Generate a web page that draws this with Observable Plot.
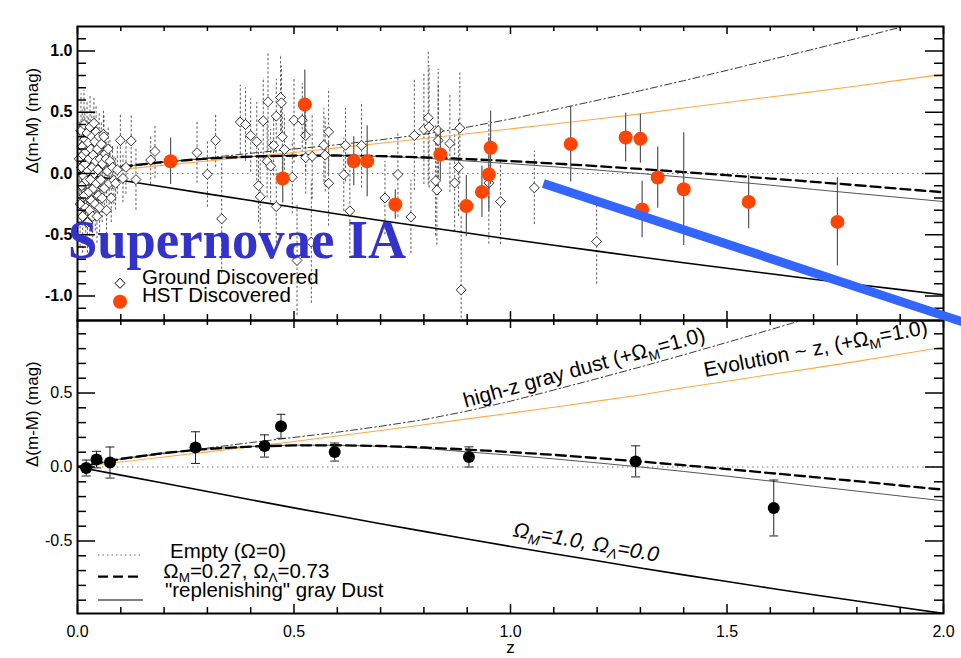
<!DOCTYPE html>
<html><head><meta charset="utf-8">
<script src="https://cdn.jsdelivr.net/npm/d3@7"></script>
<script src="https://cdn.jsdelivr.net/npm/@observablehq/plot@0.6"></script>
<style>
html,body{margin:0;padding:0;background:#fff;}
#wrap{position:relative;width:961px;height:658px;overflow:hidden;background:#fff;}
#wrap svg{position:absolute;left:0;top:0;overflow:visible;}
</style></head><body><div id="wrap"></div>
<script>
// ---------- data ----------
const zGrid = [0,0.1,0.2,0.3,0.4,0.5,0.6,0.7,0.8,0.9,1.0,1.1,1.2,1.3,1.4,1.5,1.6,1.7,1.8,1.9,2.0];
const lcdmModel = [0,0.055,0.095,0.122,0.138,0.146,0.147,0.142,0.132,0.118,0.101,0.082,0.060,0.037,0.012,-0.014,-0.041,-0.068,-0.096,-0.125,-0.153];
const omegaMatterModel = [0,-0.055,-0.110,-0.166,-0.221,-0.276,-0.330,-0.383,-0.435,-0.486,-0.537,-0.586,-0.634,-0.682,-0.729,-0.774,-0.819,-0.863,-0.906,-0.948,-0.990];
const grayDustModel = [0,0.055,0.095,0.122,0.139,0.148,0.147,0.140,0.126,0.102,0.080,0.055,0.028,0.000,-0.030,-0.062,-0.095,-0.130,-0.163,-0.196,-0.229];
const highzDustModel = [0,0.050,0.090,0.128,0.165,0.200,0.235,0.275,0.320,0.378,0.445,0.520,0.597,0.676,0.758,0.842,0.928,1.015,1.103,1.193,1.285];
const evolutionModel = [0,0.034,0.068,0.102,0.137,0.172,0.209,0.247,0.286,0.325,0.364,0.404,0.445,0.487,0.535,0.580,0.625,0.668,0.714,0.762,0.810];

// ground discovered SNe: [z, delta, error]
const groundData = [
 [0.004,0.12,0.30],[0.006,-0.25,0.35],[0.008,0.35,0.30],[0.009,0.05,0.25],[0.010,-0.10,0.30],[0.011,0.22,0.30],
 [0.012,-0.35,0.30],[0.013,0.15,0.25],[0.014,-0.02,0.30],[0.015,0.40,0.28],[0.016,-0.18,0.25],[0.017,0.28,0.25],
 [0.018,0.08,0.22],[0.019,-0.28,0.28],[0.020,0.18,0.25],[0.021,-0.06,0.22],[0.022,0.33,0.25],[0.023,-0.40,0.25],
 [0.024,0.02,0.20],[0.025,0.25,0.22],[0.026,-0.15,0.22],[0.027,0.12,0.20],[0.028,-0.30,0.25],[0.029,0.38,0.25],
 [0.030,-0.05,0.20],[0.031,0.20,0.20],[0.032,-0.22,0.22],[0.033,0.30,0.22],[0.034,0.05,0.18],[0.035,-0.35,0.25],
 [0.036,0.15,0.20],[0.037,-0.12,0.20],[0.038,0.41,0.22],[0.039,0.00,0.18],[0.040,0.26,0.20],[0.041,-0.25,0.22],
 [0.042,0.10,0.18],[0.043,0.34,0.22],[0.044,-0.08,0.18],[0.045,-0.35,0.22],[0.046,0.20,0.18],[0.047,0.03,0.16],
 [0.048,-0.18,0.20],[0.050,0.30,0.20],[0.051,-0.28,0.20],[0.052,0.12,0.18],[0.054,-0.05,0.18],[0.055,0.24,0.18],
 [0.057,-0.20,0.20],[0.058,0.08,0.16],[0.060,0.32,0.20],[0.061,0.30,0.18],[0.062,-0.12,0.18],[0.064,0.16,0.18],
 [0.066,0.12,0.18],[0.067,-0.30,0.20],[0.069,0.02,0.16],[0.071,0.20,0.18],[0.073,-0.08,0.18],[0.075,0.10,0.18],
 [0.078,-0.20,0.20],[0.081,0.05,0.18],[0.084,-0.055,0.20],[0.088,-0.08,0.22],[0.092,0.03,0.20],[0.099,0.27,0.22],
 [0.105,-0.04,0.20],[0.112,0.05,0.22],[0.124,0.266,0.22],[0.135,-0.05,0.25],
 [0.169,0.11,0.20],[0.179,0.18,0.22],[0.276,0.17,0.25],[0.300,-0.006,0.27],[0.319,0.27,0.22],[0.333,-0.37,0.45],
 [0.376,0.42,0.30],[0.388,0.40,0.30],[0.400,0.31,0.30],[0.414,0.26,0.32],[0.429,0.43,0.35],[0.440,0.585,0.40],
 [0.459,0.468,0.30],[0.469,0.62,0.35],[0.471,0.577,0.30],[0.473,0.30,0.30],[0.478,0.196,0.28],[0.453,0.23,0.25],
 [0.438,0.10,0.30],[0.446,0.06,0.30],[0.418,-0.10,0.30],[0.422,-0.19,0.30],[0.459,-0.27,0.30],[0.496,-0.03,0.30],
 [0.500,0.435,0.35],[0.519,0.435,0.30],[0.527,0.31,0.30],[0.527,0.13,0.30],[0.542,0.14,0.35],[0.507,-0.71,0.45],
 [0.540,-0.56,0.50],[0.569,0.23,0.30],[0.572,0.15,0.30],[0.580,0.34,0.35],[0.580,-0.08,0.35],[0.615,-0.01,0.30],
 [0.619,0.23,0.30],[0.629,-0.305,0.35],[0.656,0.23,0.35],[0.710,-0.20,0.30],[0.740,-0.008,0.35],[0.770,-0.355,0.30],
 [0.778,0.31,0.45],[0.800,0.36,0.45],[0.810,0.455,0.55],[0.812,0.38,0.50],[0.833,0.35,0.50],[0.833,0.27,0.45],
 [0.827,-0.06,0.45],[0.830,-0.136,0.45],[0.860,0.245,0.40],[0.871,-0.077,0.40],[0.880,0.05,0.40],[0.883,0.37,0.45],
 [0.886,-0.95,0.60],[0.950,-0.077,0.50],[0.977,-0.23,0.35],[1.055,-0.117,0.30],[1.199,-0.555,0.35]
];
// HST discovered SNe: [z, delta, error]
const hstData = [
 [0.215,0.10,0.19],[0.474,-0.041,0.20],[0.525,0.564,0.28],[0.638,0.10,0.20],[0.669,0.10,0.29],[0.734,-0.253,0.12],
 [0.838,0.155,0.21],[0.898,-0.266,0.25],[0.934,-0.15,0.21],[0.950,-0.008,0.30],[0.954,0.21,0.30],[1.139,0.24,0.31],
 [1.266,0.294,0.20],[1.300,0.283,0.20],[1.304,-0.294,0.23],[1.340,-0.033,0.25],[1.400,-0.128,0.46],[1.550,-0.232,0.22],
 [1.755,-0.395,0.36]
];
// binned averages (lower panel): [z, delta, error]
const binnedData = [
 [0.020,-0.007,0.054],[0.044,0.050,0.056],[0.075,0.030,0.105],[0.2725,0.131,0.107],[0.432,0.142,0.075],
 [0.470,0.275,0.081],[0.594,0.101,0.061],[0.904,0.068,0.068],[1.289,0.038,0.105],[1.608,-0.277,0.189]
];
const blueArrow = [[1.076,-0.082],[2.06,-1.23]];
const xTicks = [0,0.5,1.0,1.5,2.0];
const topYTicks = [-1.0,-0.5,0.0,0.5,1.0];
const bottomYTicks = [-0.5,0.0,0.5];
const annotations = [
 {text:"high-z gray dust (+Ω_M=1.0)", z:0.896, y:0.401, angle:-15.5},
 {text:"Evolution ~ z, (+Ω_M=1.0)", z:1.450, y:0.608, angle:-11}
];
const italicNote = [{text:"Ω_M=1.0, Ω_Λ=0.0", z:1.004, y:-0.468, angle:10}];

// ---------- build ----------
const FONT = "'Liberation Sans', Arial, Helvetica, sans-serif";
const W = 961, ML = 77, MR = 18, IW = W - ML - MR;
const fmt = d => d.toFixed(1);
const models = zGrid.map((z,i) => ({z, lcdm: lcdmModel[i], om: omegaMatterModel[i], dust: grayDustModel[i], hz: highzDustModel[i], evo: evolutionModel[i]}));
const rows = a => a.map(([z,y,e]) => ({z, y, lo: y - e, hi: y + e}));
const ground = rows(groundData), hst = rows(hstData), binned = rows(binnedData);
const blue = blueArrow.map(([z,y]) => ({z,y}));

const xMinor = d3.range(1,20).map(i => i/10).filter(v => Math.abs(v*2 - Math.round(v*2)) > 1e-6);
const minorY = lim => d3.range(-lim, lim+1).map(i => i/10).filter(v => Math.abs(v*2 - Math.round(v*2)) > 1e-6);

function frameTicks(yMajor, yMinor, innerH) {
  const s = {stroke:"black", strokeWidth:1.5};
  return [
    Plot.tickY(yMajor, {y: d=>d, insetRight: IW-18, ...s}),
    Plot.tickY(yMajor, {y: d=>d, insetLeft: IW-18, ...s}),
    Plot.tickY(yMinor, {y: d=>d, insetRight: IW-9, ...s}),
    Plot.tickY(yMinor, {y: d=>d, insetLeft: IW-9, ...s}),
    Plot.tickX(xTicks, {x: d=>d, insetTop: innerH-9, ...s}),
    Plot.tickX(xTicks, {x: d=>d, insetBottom: innerH-8, ...s}),
    Plot.tickX(xMinor, {x: d=>d, insetTop: innerH-6, ...s}),
    Plot.tickX(xMinor, {x: d=>d, insetBottom: innerH-5, ...s}),
    Plot.frame({stroke:"black", strokeWidth:2})
  ];
}
function modelMarks() {
  return [
    Plot.ruleY([0], {stroke:"#7a7a7a", strokeWidth:1, strokeDasharray:"1.5,3.5"}),
    Plot.line(models, {x:"z", y:"evo", stroke:"#ffaa44", strokeWidth:1.1, clip:true}),
    Plot.line(models, {x:"z", y:"hz", stroke:"#222", strokeWidth:0.9, strokeDasharray:"7,3,1.5,3", clip:true}),
    Plot.line(models, {x:"z", y:"om", stroke:"black", strokeWidth:1.6, clip:true}),
    Plot.line(models, {x:"z", y:"dust", stroke:"#555", strokeWidth:1, clip:true}),
    Plot.line(models, {x:"z", y:"lcdm", stroke:"black", strokeWidth:2.3, strokeDasharray:"10,5", clip:true})
  ];
}
const capSymbol = {draw(ctx, size){ const w = Math.sqrt(size/Math.PI); ctx.moveTo(-w,0); ctx.lineTo(w,0); }};

const bottomPlot = Plot.plot({
  width: W, height: 658, marginLeft: ML, marginRight: MR, marginTop: 320, marginBottom: 45,
  x: {domain:[0,2], axis:null}, y: {domain:[-0.99,0.99], axis:null},
  style: {background:"transparent", overflow:"visible", fontFamily: FONT, color:"black"},
  marks: [
    ...modelMarks(),
    Plot.ruleX(binned, {x:"z", y1:"lo", y2:"hi", stroke:"#222", strokeWidth:1}),
    Plot.dot(binned, {x:"z", y:"lo", symbol: capSymbol, r:4.5, stroke:"#222", strokeWidth:1, fill:"none"}),
    Plot.dot(binned, {x:"z", y:"hi", symbol: capSymbol, r:4.5, stroke:"#222", strokeWidth:1, fill:"none"}),
    Plot.dot(binned, {x:"z", y:"y", r:6, fill:"black", stroke:"none"}),
    Plot.text(annotations, {x:"z", y:"y", text:"text", rotate: d=>d.angle, textAnchor:"start", lineAnchor:"bottom", fontSize:21, fill:"black"}),
    Plot.text(italicNote, {x:"z", y:"y", text:"text", rotate: d=>d.angle, textAnchor:"start", lineAnchor:"bottom", fontSize:21, fontStyle:"italic", fill:"black"}),
    ...frameTicks(bottomYTicks, minorY(9), 293),
    Plot.axisY(bottomYTicks, {tickSize:0, tickPadding:5, tickFormat: fmt, fontSize:16, label:null}),
    Plot.axisX(xTicks, {anchor:"bottom", tickSize:0, tickPadding:12, tickFormat: fmt, fontSize:16, label:null}),
    Plot.text(["z"], {text: d=>d, frameAnchor:"bottom", dy:39, lineAnchor:"bottom", fontSize:17}),
    Plot.text(["Δ(m-M) (mag)"], {text: d=>d, frameAnchor:"left", dx:-45, rotate:-90, fontSize:17})
  ]
});

const topPlot = Plot.plot({
  width: W, height: 321, marginLeft: ML, marginRight: MR, marginTop: 26, marginBottom: 1,
  x: {domain:[0,2], axis:null}, y: {domain:[-1.2,1.2], axis:null},
  style: {background:"transparent", overflow:"visible", fontFamily: FONT, color:"black"},
  marks: [
    Plot.ruleX(ground, {x:"z", y1:"lo", y2:"hi", stroke:"#333", strokeWidth:0.8, strokeDasharray:"2.5,2", clip:true}),
    ...modelMarks(),
    Plot.dot(ground, {x:"z", y:"y", symbol:"diamond2", r:4.5, stroke:"black", strokeWidth:0.8, fill:"white"}),
    Plot.ruleX(hst, {x:"z", y1:"lo", y2:"hi", stroke:"#555", strokeWidth:1.2, clip:true}),
    Plot.dot(hst, {x:"z", y:"y", r:7, fill:"#ff4500", stroke:"none"}),
    ...frameTicks(topYTicks, minorY(11), 294),
    Plot.line(blue, {x:"z", y:"y", stroke:"#3366ff", strokeWidth:9, strokeLinecap:"butt"}),
    Plot.axisY(topYTicks, {tickSize:0, tickPadding:5, tickFormat: fmt, fontSize:16, fontWeight:"bold", label:null}),
    Plot.text(["Δ(m-M) (mag)"], {text: d=>d, frameAnchor:"left", dx:-45, rotate:-90, fontSize:17})
  ]
});

const wrap = document.getElementById("wrap");
wrap.appendChild(bottomPlot);
wrap.appendChild(topPlot);

// overlay: title and legends
const ov = d3.select(wrap).append("svg").attr("width", W).attr("height", 658).style("font-family", FONT);
ov.append("text").attr("x", 68).attr("y", 258)
  .attr("font-family", "'Liberation Serif','Times New Roman',serif").attr("font-weight", "bold")
  .attr("font-size", 54).attr("fill", "#3333cc").attr("textLength", 338).attr("lengthAdjust", "spacingAndGlyphs")
  .text("Supernovae IA");
ov.append("path").attr("d", "M120,278.3L125,283.3L120,288.3L115,283.3Z").attr("fill", "white").attr("stroke", "black").attr("stroke-width", 1);
ov.append("circle").attr("cx", 120).attr("cy", 301.7).attr("r", 7).attr("fill", "#ff4500");
ov.append("text").attr("x", 142).attr("y", 283.5).attr("font-size", 20.5).text("Ground Discovered");
ov.append("text").attr("x", 142).attr("y", 302).attr("font-size", 20.5).text("HST Discovered");

const legendRows = [
  {label:"Empty (Ω=0)", tx:170, ty:558.3, ly:555, stroke:"#666", w:1, dash:"1.5,3"},
  {label:"Ω_M=0.27, Ω_Λ=0.73", tx:163.3, ty:577.5, ly:576.7, stroke:"black", w:2.3, dash:"10,5"},
  {label:"\"replenishing\" gray Dust", tx:165, ty:597, ly:600, stroke:"black", w:1, dash:null}
];
legendRows.forEach(r => {
  ov.append("line").attr("x1", 98).attr("x2", 143).attr("y1", r.ly).attr("y2", r.ly)
    .attr("stroke", r.stroke).attr("stroke-width", r.w).attr("stroke-dasharray", r.dash);
  ov.append("text").attr("x", r.tx).attr("y", r.ty).attr("font-size", 20.5).text(r.label);
});

// subscripts: "Ω_M" -> Ω with subscript M
function subscriptify(root) {
  root.querySelectorAll("text").forEach(t => {
    const s = t.textContent;
    if (!s.includes("_")) return;
    const fs = parseFloat(getComputedStyle(t).fontSize) || 20;
    const parts = s.split(/_(.)/);
    while (t.firstChild) t.removeChild(t.firstChild);
    parts.forEach((p, i) => {
      const ts = document.createElementNS("http://www.w3.org/2000/svg", "tspan");
      ts.textContent = p;
      if (i % 2 === 1) { ts.setAttribute("dy", (0.22*fs).toFixed(1)); ts.setAttribute("font-size", (0.66*fs).toFixed(1)); }
      else if (i > 0) { ts.setAttribute("dy", (-0.22*fs).toFixed(1)); }
      t.appendChild(ts);
    });
  });
}
wrap.querySelectorAll("svg").forEach(subscriptify);
</script>
</body></html>
